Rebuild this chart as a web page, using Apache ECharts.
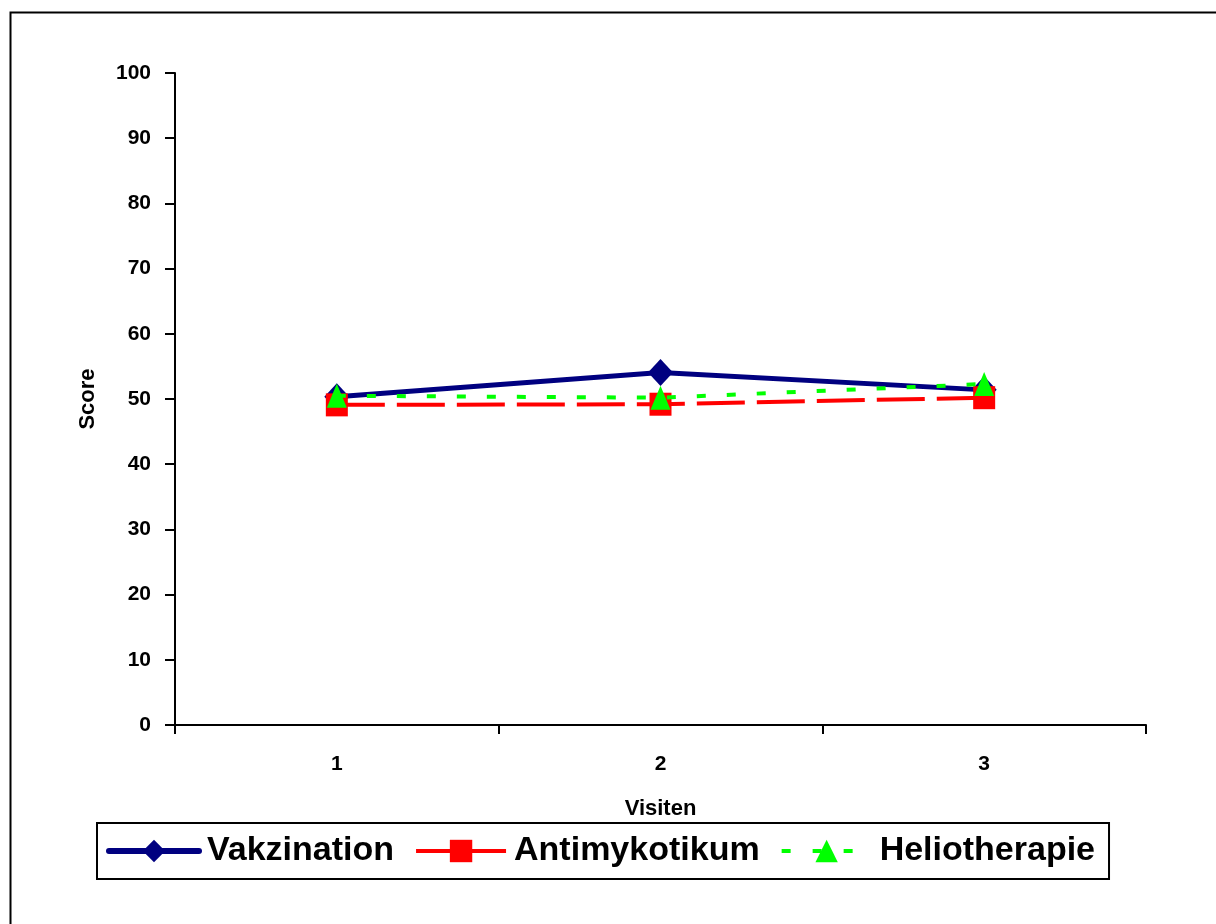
<!DOCTYPE html>
<html>
<head>
<meta charset="utf-8">
<script src="https://cdn.jsdelivr.net/npm/echarts@6/dist/echarts.min.js"></script>
<style>
html,body{margin:0;padding:0;background:#fff;}
#c{width:1216px;height:924px;}
</style>
</head>
<body>
<div id="c"></div>
<script>
const categories = ['1', '2', '3'];
const vakzination = [50.35, 54.05, 51.4];
const antimykotikum = [49.1, 49.2, 50.2];
const heliotherapie = [50.5, 50.2, 52.3];
const seriesNames = ['Vakzination', 'Antimykotikum', 'Heliotherapie'];
const yMin = 0, yMax = 100, yStep = 10;

const FONT = '"Liberation Sans", Arial, sans-serif';
const chart = echarts.init(document.getElementById('c'), null, {renderer: 'canvas'});

const option = {
  backgroundColor: '#fff',
  animation: false,
  graphic: [{
    type: 'rect', left: 8, top: 10, z: -1,
    shape: {width: 1300, height: 1000},
    style: {fill: 'none', stroke: '#000', lineWidth: 2}
  }],
  grid: {left: 175, right: 70, top: 73, bottom: 199, containLabel: false},
  xAxis: {
    type: 'category',
    data: categories,
    boundaryGap: true,
    name: 'Visiten',
    nameLocation: 'middle',
    nameGap: 73,
    nameTextStyle: {fontFamily: FONT, fontWeight: 'bold', fontSize: 22, color: '#000'},
    axisLine: {lineStyle: {color: '#000', width: 2}},
    axisTick: {show: true, length: 9, inside: false, alignWithLabel: false, lineStyle: {color: '#000', width: 2}},
    axisLabel: {margin: 29, fontFamily: FONT, fontWeight: 'bold', fontSize: 21, color: '#000'},
    splitLine: {show: false}
  },
  yAxis: {
    type: 'value',
    min: yMin, max: yMax, interval: yStep,
    name: 'Score',
    nameLocation: 'middle',
    nameGap: 76,
    nameTextStyle: {fontFamily: FONT, fontWeight: 'bold', fontSize: 22, color: '#000'},
    axisLine: {show: true, lineStyle: {color: '#000', width: 2}},
    axisTick: {show: true, length: 10, lineStyle: {color: '#000', width: 2}},
    axisLabel: {margin: 24, fontFamily: FONT, fontWeight: 'bold', fontSize: 21, color: '#000'},
    splitLine: {show: false}
  },
  legend: {
    left: 97, top: 823,
    orient: 'horizontal',
    padding: [11, 14, 11, 9],
    itemGap: 20,
    itemWidth: 90,
    itemHeight: 28,
    borderColor: '#000',
    borderWidth: 2,
    textStyle: {fontFamily: FONT, fontWeight: 'bold', fontSize: 34, color: '#000', padding: [0, 0, 0, 3]},
    data: [
      {name: seriesNames[0], lineStyle: {width: 6, type: 'solid', cap: 'round'}},
      {name: seriesNames[1], lineStyle: {width: 4, type: 'solid'}},
      {name: seriesNames[2], lineStyle: {width: 4, type: [9, 22]}}
    ]
  },
  series: [
    {
      name: seriesNames[0], type: 'line', data: vakzination,
      symbol: 'diamond', symbolSize: [25, 27],
      lineStyle: {color: '#000080', width: 5},
      itemStyle: {color: '#000080'},
      z: 2
    },
    {
      name: seriesNames[1], type: 'line', data: antimykotikum,
      symbol: 'rect', symbolSize: [22, 23],
      lineStyle: {color: '#ff0000', width: 4, type: [48, 12]},
      itemStyle: {color: '#ff0000'},
      z: 3
    },
    {
      name: seriesNames[2], type: 'line', data: heliotherapie,
      symbol: 'triangle', symbolSize: [20, 24],
      lineStyle: {color: '#00ff00', width: 4, type: [9, 21]},
      itemStyle: {color: '#00ff00'},
      z: 4
    }
  ]
};
chart.setOption(option);
</script>
</body>
</html>
